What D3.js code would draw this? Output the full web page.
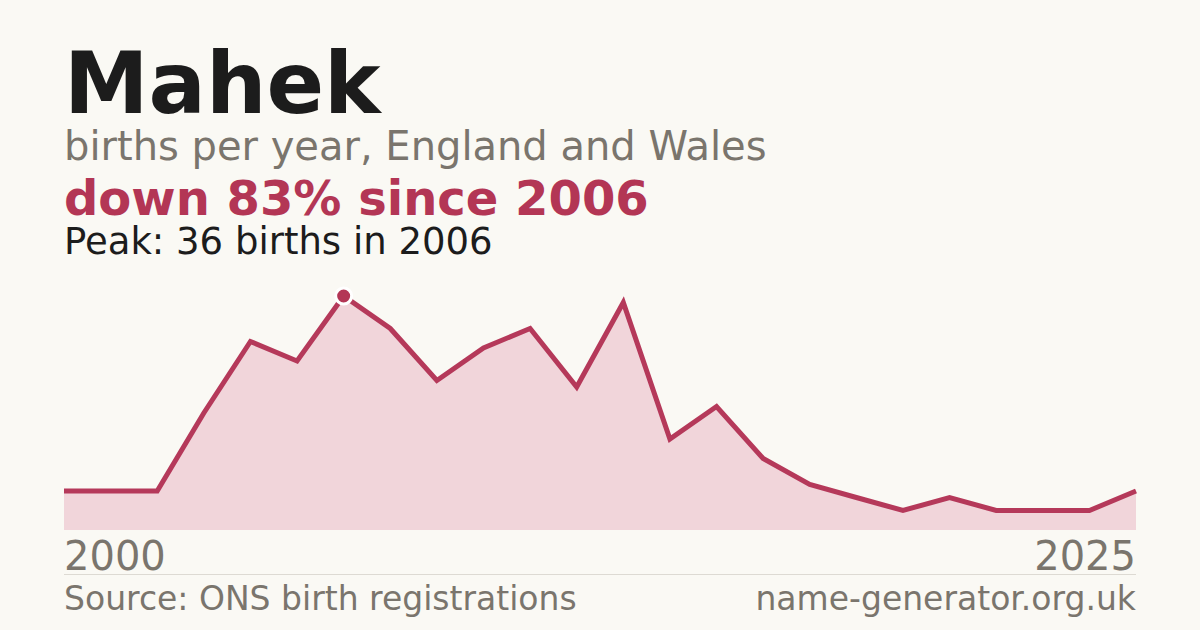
<!DOCTYPE html>
<html><head><meta charset="utf-8">
<script src="https://cdn.jsdelivr.net/npm/d3@7"></script>
<style>html,body{margin:0;padding:0;background:#faf9f4;}svg{display:block;font-family:"DejaVu Sans",sans-serif;}</style>
</head><body>
<svg id="c" width="1200" height="630"></svg>
<script>
const years = [2000,2001,2002,2003,2004,2005,2006,2007,2008,2009,2010,2011,2012,2013,2014,2015,2016,2017,2018,2019,2020,2021,2022,2023];
const births = [6,6,6,18,29,26,36,31,23,28,31,22,35,14,19,11,7,5,3,5,3,3,3,6];
const tickLabels = ["2000","2025"];
const title = "Mahek";
const subtitle = "births per year, England and Wales";
const headline = "down 83% since 2006";
const peakText = "Peak: 36 births in 2006";
const sourceText = "Source: ONS birth registrations";
const siteText = "name-generator.org.uk";

const W=1200,H=630, L=64, R=1136, plotTop=296, base=530;
const svg = d3.select("#c");
svg.append("rect").attr("width",W).attr("height",H).attr("fill","#faf9f4");

const x = d3.scaleLinear().domain(d3.extent(years)).range([L,R]);
const y = d3.scaleLinear().domain([0,d3.max(births)]).range([base,plotTop]);
const data = years.map((yr,i)=>({yr,v:births[i]}));

svg.append("text").attr("x",L).attr("y",113).attr("font-size",85).attr("font-weight","bold").attr("fill","#1c1c1c").text(title);
svg.append("text").attr("x",L).attr("y",160).attr("font-size",40).attr("fill","#7a756d").text(subtitle);
svg.append("text").attr("x",L).attr("y",215).attr("font-size",48).attr("font-weight","bold").attr("fill","#b33655").text(headline);
svg.append("text").attr("x",L).attr("y",254).attr("font-size",37).attr("fill","#1c1c1c").text(peakText);

svg.append("path").datum(data)
  .attr("d",d3.area().x(d=>x(d.yr)).y0(base).y1(d=>y(d.v)))
  .attr("fill","#f1d5da");
svg.append("path").datum(data)
  .attr("d",d3.line().x(d=>x(d.yr)).y(d=>y(d.v)))
  .attr("fill","none").attr("stroke","#b5395a").attr("stroke-width",5).attr("stroke-linejoin","miter");

const peak = data.reduce((a,b)=>b.v>a.v?b:a);
svg.append("circle").attr("cx",x(peak.yr)).attr("cy",y(peak.v)).attr("r",8)
  .attr("fill","#b33655").attr("stroke","#ffffff").attr("stroke-width",3);

svg.append("text").attr("x",L).attr("y",570).attr("font-size",40).attr("fill","#7a756d").text(tickLabels[0]);
svg.append("text").attr("x",R).attr("y",570).attr("font-size",40).attr("fill","#7a756d").attr("text-anchor","end").text(tickLabels[1]);

svg.append("line").attr("x1",L).attr("x2",R).attr("y1",574.5).attr("y2",574.5).attr("stroke","#dddad3").attr("stroke-width",1);

svg.append("text").attr("x",L).attr("y",610).attr("font-size",33).attr("fill","#7a756d").text(sourceText);
svg.append("text").attr("x",R).attr("y",610).attr("font-size",33).attr("fill","#7a756d").attr("text-anchor","end").text(siteText);
</script>
</body></html>
